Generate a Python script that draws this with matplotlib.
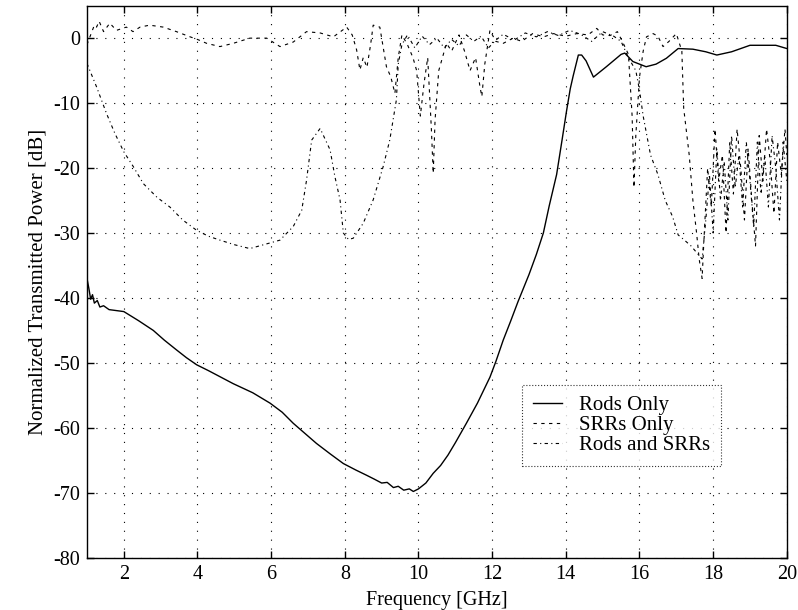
import matplotlib
matplotlib.use("Agg")
import matplotlib.pyplot as plt

plt.rcParams['font.family'] = ['Liberation Serif', 'DejaVu Serif']
plt.rcParams['axes.unicode_minus'] = False

# Rods Only
rods_f = [1.0, 1.05, 1.1, 1.15, 1.2, 1.28, 1.35, 1.45, 1.6, 2.0, 2.4, 2.8, 3.1, 3.43, 3.7, 3.98, 4.3, 4.97,
          5.5, 5.97, 6.3, 6.6, 7.23, 7.6, 7.96, 8.3, 8.59, 8.8, 9.0, 9.15, 9.32, 9.45, 9.6, 9.75, 9.86, 10.0,
          10.2, 10.4, 10.6, 10.8, 11.0, 11.3, 11.6, 11.94, 12.1, 12.3, 12.5, 12.7, 13.0, 13.2, 13.39, 13.55,
          13.75, 13.9, 14.02, 14.12, 14.2, 14.34, 14.43, 14.55, 14.75, 15.1, 15.5, 15.6, 15.82, 16.18, 16.45,
          16.73, 17.05, 17.45, 17.8, 18.1, 18.5, 19.0, 19.7, 20.0]
rods_db = [-37, -38.5, -40.2, -39.5, -40.8, -40.4, -41.4, -41.2, -41.8, -42.1, -43.5, -45, -46.5, -48, -49.2,
           -50.3, -51.2, -53.2, -54.6, -56.2, -57.6, -59.3, -62.4, -64, -65.5, -66.5, -67.3, -67.9, -68.5,
           -68.4, -69.2, -69.0, -69.6, -69.4, -69.8, -69.4, -68.5, -67.0, -65.8, -64.2, -62.3, -59.3, -56.2,
           -52.2, -49.8, -46.5, -43.6, -40.6, -36.4, -33.3, -30, -25.8, -21, -15.6, -11.2, -7.8, -5.8, -2.6,
           -2.6, -3.5, -6, -4.4, -2.5, -2.3, -3.6, -4.4, -4.0, -3.1, -1.6, -1.7, -2.1, -2.6, -2.1, -1.1, -1.1,
           -1.6]

# SRRs Only
srr_f = [1.0, 1.1, 1.2, 1.26, 1.33, 1.45, 1.62, 1.8, 2.07, 2.25, 2.44, 2.7, 3.07, 3.43, 3.8, 4.0, 4.25, 4.61,
         4.97, 5.42, 5.88, 6.24, 6.6, 6.96, 7.33, 7.69, 8.05, 8.2, 8.32, 8.41, 8.5, 8.6, 8.7, 8.77, 8.95, 9.13,
         9.25, 9.36, 9.45, 9.55, 9.7, 9.85, 9.95, 10.05, 10.15, 10.25, 10.35, 10.4, 10.45, 10.55, 10.7, 10.76,
         10.9, 11.1, 11.25, 11.4, 11.55, 11.67, 11.72, 11.8, 11.94, 12.1, 12.3, 12.57, 12.8, 13.1, 13.4, 13.66,
         14.0, 14.3, 14.6, 14.84, 15.0, 15.2, 15.4, 15.56, 15.7, 15.8, 15.85, 15.9, 16.0, 16.1, 16.19, 16.37,
         16.5, 16.64, 16.8, 17.0, 17.15, 17.2, 17.35, 17.45, 17.55, 17.62, 17.7, 17.75, 17.85, 17.95, 18.05,
         18.15, 18.25, 18.35, 18.45, 18.55, 18.65, 18.75, 18.85, 18.95, 19.05, 19.15, 19.25, 19.35, 19.45,
         19.55, 19.65, 19.75, 19.85, 19.95, 20.0]
srr_db = [-1, 0.5, 2.0, 1.7, 2.6, 1.0, 2.3, 1.2, 1.7, 1.0, 1.7, 2.0, 1.7, 1.0, 0.2, -0.2, -0.8, -1.3,
          -0.8, 0.0, 0.0, -1.3, -0.6, 1.0, 0.8, 0.2, 1.7, 0.5, -1.8, -4.9, -3.0, -4.5, -1.0, 2.0, 1.7, -4.4,
          -6.0, -8.5, -3, 0.5, -1, -3, -5, -12, -7, -3, -14, -20.8, -12.6, -5, -2, -0.8,
          -2, 0.5, -2, -5, -3, -7.5, -9, -4, 1.2, -0.5, -0.8, 0.0, -0.5, 0.7, 0.2, 0.7,
          0.3, 0.7, 0.5, 1.5, 0.5, 0.4, 1.0, -0.8, -2.5, -12, -23, -15, -6, -2, 0.2, 0.7,
          0.3, -1.3, -0.5, 0.7, -2, -10.8, -18, -25, -30, -34, -37, -31, -20, -26, -14,
          -22, -18, -30, -16, -24, -14, -20, -28, -17, -25, -32, -15, -22, -14,
          -19, -27, -16, -21, -14, -18]

# Rods and SRRs
both_f = [1.0, 1.26, 1.53, 1.76, 2.0, 2.26, 2.53, 2.9, 3.25, 3.6, 3.98, 4.3, 4.61, 5.0, 5.42, 5.8, 6.24, 6.6,
          6.83, 6.96, 7.1, 7.33, 7.6, 7.73, 7.87, 7.96, 8.1, 8.23, 8.5, 8.77, 9.04, 9.22, 9.4, 9.45, 9.55, 9.7,
          9.9, 10.1, 10.3, 10.5, 10.7, 10.9, 11.1, 11.3, 11.5, 11.7, 11.9, 12.1, 12.3, 12.6, 12.9, 13.2, 13.5,
          13.8, 14.1, 14.4, 14.7, 15.0, 15.3, 15.5, 15.7, 15.9, 16.0, 16.1, 16.3, 16.5, 16.7, 16.9, 17.05,
          17.2, 17.4, 17.7, 17.8, 17.9, 18.0, 18.1, 18.2, 18.3, 18.4, 18.5, 18.6, 18.7, 18.8, 18.9, 19.0,
          19.1, 19.2, 19.3, 19.4, 19.5, 19.6, 19.7, 19.8, 19.9, 20.0]
both_db = [-3.9, -7.5, -11.6, -14.7, -17.5, -19.8, -22.4, -24.5, -26, -28, -29.6, -30.5, -31.1, -31.8, -32.4,
           -31.8, -31.1, -29, -26.5, -21.9, -15.7, -13.9, -17.2, -21.3, -24.9, -30, -31, -30.8, -28.5, -24.9,
           -19.8, -15.7, -9.5, -4, -1, 0.5, -1.5, 0.3, -1, 0, -1.5, -0.2, -1.2, 0.5, -0.5, 0.3, -1.5, -0.3,
           0.6, -0.3, 0.8, 0.2, 1.0, 0.4, 1.2, 0.6, -0.5, 1.0, 0.3, -0.5, -3.0, -5, -8, -12, -18, -21, -25,
           -27.5, -30.3, -31, -32, -34, -28, -21, -30, -17, -25, -19, -28, -15, -23, -18, -26, -16, -22,
           -29, -16, -24, -18, -26, -15, -20, -28, -16, -22]

xticks = [2, 4, 6, 8, 10, 12, 14, 16, 18, 20]
yticks = [0, -10, -20, -30, -40, -50, -60, -70, -80]

fig = plt.figure(figsize=(7.98, 6.10), dpi=100)
ax = fig.add_axes([0.109, 0.0857, 0.877, 0.905])

ax.plot(rods_f, rods_db, color='black', lw=1.0, ls='-', label='Rods Only')
ax.plot(srr_f, srr_db, color='black', lw=0.8, ls=(0, (3, 4)), label='SRRs Only')
ax.plot(both_f, both_db, color='black', lw=0.8, ls=(0, (3, 3, 1, 3)), label='Rods and SRRs')

ax.set_xlim(1, 20)
ax.set_ylim(-80, 5)
ax.set_xticks(xticks)
ax.set_yticks(yticks)
ax.set_xticklabels([str(t) for t in xticks])
ax.set_yticklabels([str(t) for t in yticks])
ax.tick_params(direction='in', length=5, width=1, labelsize=14.5, top=True, right=True, pad=5)
ax.grid(True, color='black', lw=0.8, ls=(0, (1, 7)))
for s in ax.spines.values():
    s.set_linewidth(1.0)

ax.set_xlabel('Frequency [GHz]', fontsize=14.5, labelpad=5)
ax.set_ylabel('Normalized Transmitted Power [dB]', fontsize=15, labelpad=4)

leg = ax.legend(loc='upper left', bbox_to_anchor=(0.607, 0.331), fontsize=15, frameon=True,
                fancybox=False, edgecolor='black', handlelength=1.4, borderpad=0.5,
                labelspacing=0.02, handletextpad=0.85, borderaxespad=0.5)
leg.get_frame().set_linewidth(0.8)
leg.get_frame().set_linestyle(':')

fig.savefig('out.png', dpi=100)
